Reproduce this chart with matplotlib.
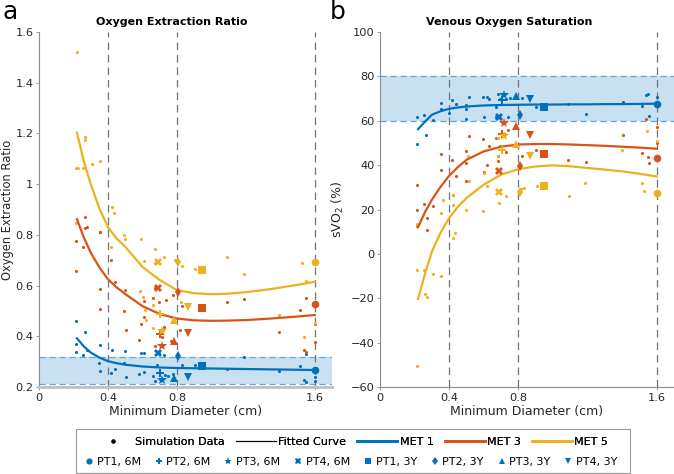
import matplotlib
matplotlib.use("Agg")
import matplotlib.pyplot as plt
from matplotlib.lines import Line2D
from matplotlib.patches import Rectangle

BLUE = "#0072BD"
ORANGE = "#D95319"
YELLOW = "#EDB120"
BAND = "#c9e0f1"
BAND_EDGE = "#5ea6e0"

# ---- panel a: oxygen extraction ratio ----
er_met1_x = [0.216, 0.216, 0.216, 0.253, 0.269, 0.280, 0.346, 0.354, 0.354, 0.419, 0.425, 0.439,
             0.499, 0.495, 0.506, 0.578, 0.593, 0.609, 0.609, 0.663, 0.682, 0.694, 0.674, 0.729,
             0.727, 0.748, 0.777, 0.831, 0.906, 0.945, 1.088, 1.188, 1.391, 1.513, 1.540, 1.550,
             1.550, 1.600, 1.600]
er_met1_y = [0.462, 0.370, 0.337, 0.326, 0.418, 0.346, 0.296, 0.264, 0.366, 0.254, 0.346, 0.271,
             0.342, 0.293, 0.238, 0.250, 0.335, 0.334, 0.260, 0.243, 0.287, 0.334, 0.225, 0.246,
             0.326, 0.243, 0.250, 0.288, 0.285, 0.275, 0.272, 0.320, 0.265, 0.284, 0.228, 0.220,
             0.329, 0.241, 0.222]
er_met3_x = [0.216, 0.216, 0.253, 0.267, 0.269, 0.280, 0.354, 0.354, 0.354, 0.354, 0.419, 0.439,
             0.499, 0.495, 0.506, 0.578, 0.593, 0.609, 0.609, 0.663, 0.674, 0.674, 0.694, 0.713,
             0.727, 0.737, 0.766, 0.777, 0.818, 0.831, 1.088, 1.188, 1.391, 1.513, 1.540, 1.550,
             1.550, 1.600, 1.600]
er_met3_y = [0.774, 0.659, 0.751, 0.872, 0.828, 0.830, 0.811, 0.586, 0.506, 0.812, 0.701, 0.615,
             0.582, 0.501, 0.425, 0.385, 0.447, 0.539, 0.475, 0.550, 0.589, 0.362, 0.536, 0.396,
             0.435, 0.543, 0.383, 0.563, 0.425, 0.519, 0.536, 0.547, 0.416, 0.504, 0.346, 0.550,
             0.339, 0.448, 0.379]
er_met5_x = [0.220, 0.216, 0.226, 0.257, 0.269, 0.269, 0.305, 0.354, 0.216, 0.423, 0.435, 0.419,
             0.495, 0.500, 0.593, 0.609, 0.674, 0.674, 0.727, 0.791, 0.829, 0.906, 1.088, 1.188,
             1.391, 1.525, 1.540, 1.550, 1.600, 0.587, 0.601, 0.617, 0.660, 0.621, 0.660, 0.823]
er_met5_y = [1.522, 1.062, 1.062, 1.062, 1.187, 1.174, 1.079, 1.091, 0.845, 0.911, 0.885, 0.751,
             0.799, 0.782, 0.782, 0.698, 0.743, 0.690, 0.714, 0.701, 0.677, 0.664, 0.714, 0.646,
             0.485, 0.688, 0.398, 0.618, 0.451, 0.580, 0.556, 0.504, 0.523, 0.464, 0.431, 0.536]

fit_x = [0.22, 0.26, 0.30, 0.35, 0.40, 0.45, 0.50, 0.60, 0.70, 0.80, 0.90, 1.00, 1.10, 1.20, 1.30, 1.40, 1.50, 1.60]
er_fit_met1 = [0.392, 0.360, 0.336, 0.316, 0.302, 0.294, 0.288, 0.281, 0.277, 0.275, 0.274, 0.273,
               0.272, 0.271, 0.270, 0.269, 0.268, 0.267]
er_fit_met3 = [0.862, 0.790, 0.730, 0.672, 0.625, 0.593, 0.567, 0.519, 0.488, 0.470, 0.463, 0.461,
               0.462, 0.464, 0.468, 0.473, 0.478, 0.484]
er_fit_met5 = [1.203, 1.090, 1.000, 0.905, 0.830, 0.786, 0.753, 0.674, 0.622, 0.582, 0.570, 0.566,
               0.568, 0.574, 0.582, 0.592, 0.603, 0.615]

# ---- panel b: venous oxygen saturation ----
sv_met1_x = [0.216, 0.216, 0.253, 0.267, 0.307, 0.354, 0.354, 0.400, 0.414, 0.437, 0.500, 0.500,
             0.500, 0.514, 0.593, 0.603, 0.616, 0.628, 0.671, 0.671, 0.682, 0.694, 0.729, 0.738,
             0.754, 0.823, 0.904, 1.088, 1.190, 1.403, 1.517, 1.538, 1.548, 1.554, 1.602]
sv_met1_y = [61.5, 49.5, 62.7, 53.7, 60.4, 67.9, 65.2, 63.7, 69.4, 67.5, 67.0, 65.5,
             60.9, 70.9, 70.6, 61.6, 70.9, 70.0, 66.3, 61.6, 72.0, 70.0, 69.9, 61.9,
             70.3, 70.2, 66.4, 67.5, 63.1, 68.5, 66.6, 71.7, 72.1, 62.2, 70.9]
sv_met3_x = [0.216, 0.216, 0.216, 0.253, 0.270, 0.270, 0.307, 0.354, 0.354, 0.414, 0.420, 0.437,
             0.500, 0.500, 0.500, 0.514, 0.593, 0.603, 0.616, 0.628, 0.671, 0.682, 0.682, 0.694,
             0.729, 0.738, 0.823, 0.904, 1.088, 1.190, 1.403, 1.517, 1.538, 1.548, 1.554, 1.602,
             1.602]
sv_met3_y = [30.9, 19.6, 12.4, 22.3, 16.2, 10.9, 21.4, 45.0, 37.6, 42.1, 26.7, 34.9,
             46.2, 40.9, 32.7, 53.2, 51.7, 36.7, 40.0, 48.4, 52.2, 43.9, 41.7, 48.4,
             45.7, 55.9, 44.2, 46.9, 42.4, 41.4, 53.8, 45.4, 60.7, 43.6, 40.9, 57.4,
             49.9]
sv_met5_x = [0.216, 0.216, 0.253, 0.261, 0.270, 0.309, 0.354, 0.216, 0.423, 0.433, 0.216, 0.354,
             0.367, 0.421, 0.421, 0.500, 0.506, 0.514, 0.593, 0.603, 0.616, 0.680, 0.680, 0.690,
             0.727, 0.815, 0.831, 0.908, 1.092, 1.188, 1.397, 1.517, 1.527, 1.546, 1.600]
sv_met5_y = [-7.4, 13.5, -7.4, -17.9, -19.4, -8.9, -10.1, -50.5, 7.2, 9.4, 13.2, 18.4,
             24.4, 26.7, 22.2, 19.9, 43.9, 32.7, 19.5, 36.4, 30.4, 52.2, 43.9, 22.9,
             25.9, 29.4, 29.7, 30.4, 25.9, 31.9, 46.9, 31.9, 28.2, 55.6, 50.7]

sv_fit_met1 = [56.2, 59.6, 62.7, 64.3, 65.4, 66.0, 66.4, 66.9, 67.1, 67.2, 67.3, 67.3,
               67.4, 67.4, 67.5, 67.5, 67.6, 67.7]
sv_fit_met3 = [12.0, 18.8, 24.4, 30.2, 35.2, 39.1, 42.4, 46.2, 48.3, 49.3, 49.5, 49.5,
               49.3, 49.0, 48.7, 48.3, 47.9, 47.4]
sv_fit_met5 = [-20.3, -9.0, 1.0, 9.5, 16.2, 21.2, 25.2, 31.2, 35.7, 38.2, 39.4, 39.9,
               39.5, 38.7, 38.0, 37.2, 36.1, 34.9]

# ---- patient markers ----
pt_labels = ["PT1, 6M", "PT2, 6M", "PT3, 6M", "PT4, 6M", "PT1, 3Y", "PT2, 3Y", "PT3, 3Y", "PT4, 3Y"]
pt_markers = ["o", "P", "*", "X", "s", "d", "^", "v"]
pt_x = [1.6, 0.703, 0.715, 0.69, 0.948, 0.808, 0.785, 0.866]
er_pt_met1 = [0.266, 0.256, 0.226, 0.334, 0.284, 0.323, 0.235, 0.241]
er_pt_met3 = [0.526, 0.410, 0.360, 0.589, 0.510, 0.573, 0.381, 0.412]
er_pt_met5 = [0.694, 0.487, 0.420, 0.693, 0.662, 0.693, 0.464, 0.514]
sv_pt_met1 = [67.7, 69.2, 71.7, 61.6, 66.1, 62.5, 71.3, 69.9]
sv_pt_met3 = [43.3, 54.2, 59.2, 37.5, 45.0, 39.4, 57.6, 53.7]
sv_pt_met5 = [27.4, 47.0, 53.1, 27.9, 30.4, 27.7, 49.5, 43.9]

guide_x = [0.4, 0.8, 1.6]
er_band = (0.21, 0.32)
sv_band = (60, 80)

plt.rcParams["font.family"] = "DejaVu Sans"
fig = plt.figure(figsize=(6.74, 4.74), dpi=100)
ax1 = fig.add_axes([0.0579, 0.1835, 0.4347, 0.749])
ax2 = fig.add_axes([0.5638, 0.1835, 0.4362, 0.749])


def draw_panel(ax, band, dots, fits, pts):
    ax.axhspan(band[0], band[1], color=BAND, lw=0, zorder=0)
    for yb in band:
        ax.axhline(yb, color=BAND_EDGE, lw=0.9, ls=(0, (5, 3)), zorder=1)
    for gx in guide_x:
        ax.axvline(gx, color="0.45", lw=0.9, ls=(0, (6, 4)), zorder=1)
    for (xs, ys), c in zip(dots, [BLUE, ORANGE, YELLOW]):
        ax.scatter(xs, ys, s=5, color=c, lw=0, zorder=3)
    for ys, c in zip(fits, [BLUE, ORANGE, YELLOW]):
        ax.plot(fit_x, ys, color=c, lw=1.6, zorder=4)
    for ys, c in zip(pts, [BLUE, ORANGE, YELLOW]):
        for x, y, m in zip(pt_x, ys, pt_markers):
            ax.plot(x, y, marker=m, color=c, ms=5.5 if m != "*" else 7, ls="none", mew=0, zorder=5)
    ax.set_xlim(0, 1.7)
    ax.set_xticks([0, 0.4, 0.8, 1.6])
    ax.set_xticklabels(["0", "0.4", "0.8", "1.6"])
    for s in ["top", "right"]:
        ax.spines[s].set_visible(False)
    for s in ["left", "bottom"]:
        ax.spines[s].set_color("0.55")
        ax.spines[s].set_linewidth(0.8)
    ax.tick_params(length=2, width=0.6, color="0.55", labelsize=8.2, labelcolor="#262626", pad=2)
    ax.set_xlabel("Minimum Diameter (cm)", fontsize=9, color="#262626", labelpad=2)


draw_panel(ax1, er_band,
           [(er_met1_x, er_met1_y), (er_met3_x, er_met3_y), (er_met5_x, er_met5_y)],
           [er_fit_met1, er_fit_met3, er_fit_met5],
           [er_pt_met1, er_pt_met3, er_pt_met5])
ax1.set_ylim(0.2, 1.6)
ax1.set_yticks([0.2, 0.4, 0.6, 0.8, 1.0, 1.2, 1.4, 1.6])
ax1.set_yticklabels(["0.2", "0.4", "0.6", "0.8", "1", "1.2", "1.4", "1.6"])
ax1.spines["bottom"].set_linewidth(2)
ax1.spines["bottom"].set_color("0.75")
ax1.set_ylabel("Oxygen Extraction Ratio", fontsize=8.3, color="#262626", labelpad=1)
ax1.set_title("Oxygen Extraction Ratio", fontsize=8, fontweight="bold", x=0.453, pad=5)

draw_panel(ax2, sv_band,
           [(sv_met1_x, sv_met1_y), (sv_met3_x, sv_met3_y), (sv_met5_x, sv_met5_y)],
           [sv_fit_met1, sv_fit_met3, sv_fit_met5],
           [sv_pt_met1, sv_pt_met3, sv_pt_met5])
ax2.set_ylim(-60, 100)
ax2.set_yticks(range(-60, 101, 20))
ax2.set_ylabel("sVO$_2$ (%)", fontsize=9, color="#262626", labelpad=3)
ax2.set_title("Venous Oxygen Saturation", fontsize=8, fontweight="bold", x=0.44, pad=5)

fig.text(0.004, 1.0, "a", fontsize=18, va="top")
fig.text(0.489, 1.0, "b", fontsize=18, va="top")

# legend: two rows inside a single frame
row1 = [Line2D([], [], color="k", marker="o", ms=2, ls="none"),
        Line2D([], [], color="k", lw=0.8),
        Line2D([], [], color=BLUE, lw=2),
        Line2D([], [], color=ORANGE, lw=2),
        Line2D([], [], color=YELLOW, lw=2)]
row1_labels = ["Simulation Data", "Fitted Curve", "MET 1", "MET 3", "MET 5"]
row2 = [Line2D([], [], color=BLUE, marker=m, ms=4.5 if m != "*" else 6, mew=0, ls="none") for m in pt_markers]

leg1 = fig.legend(row1, row1_labels, loc="center", bbox_to_anchor=(0.52, 0.067), ncol=5,
                  frameon=False, fontsize=8, handlelength=3.6, handletextpad=0.2, columnspacing=1.0)
fig.add_artist(leg1)
fig.legend(row2, pt_labels, loc="center", bbox_to_anchor=(0.52, 0.025), ncol=8,
           frameon=False, fontsize=8, handlelength=1.0, handletextpad=0.2, columnspacing=1.1)
fig.patches.append(Rectangle((76 / 674, 1 / 474), (630 - 76) / 674, 44 / 474, transform=fig.transFigure,
                             fill=False, edgecolor="0.6", lw=0.8))

fig.savefig("out.png", dpi=100)
